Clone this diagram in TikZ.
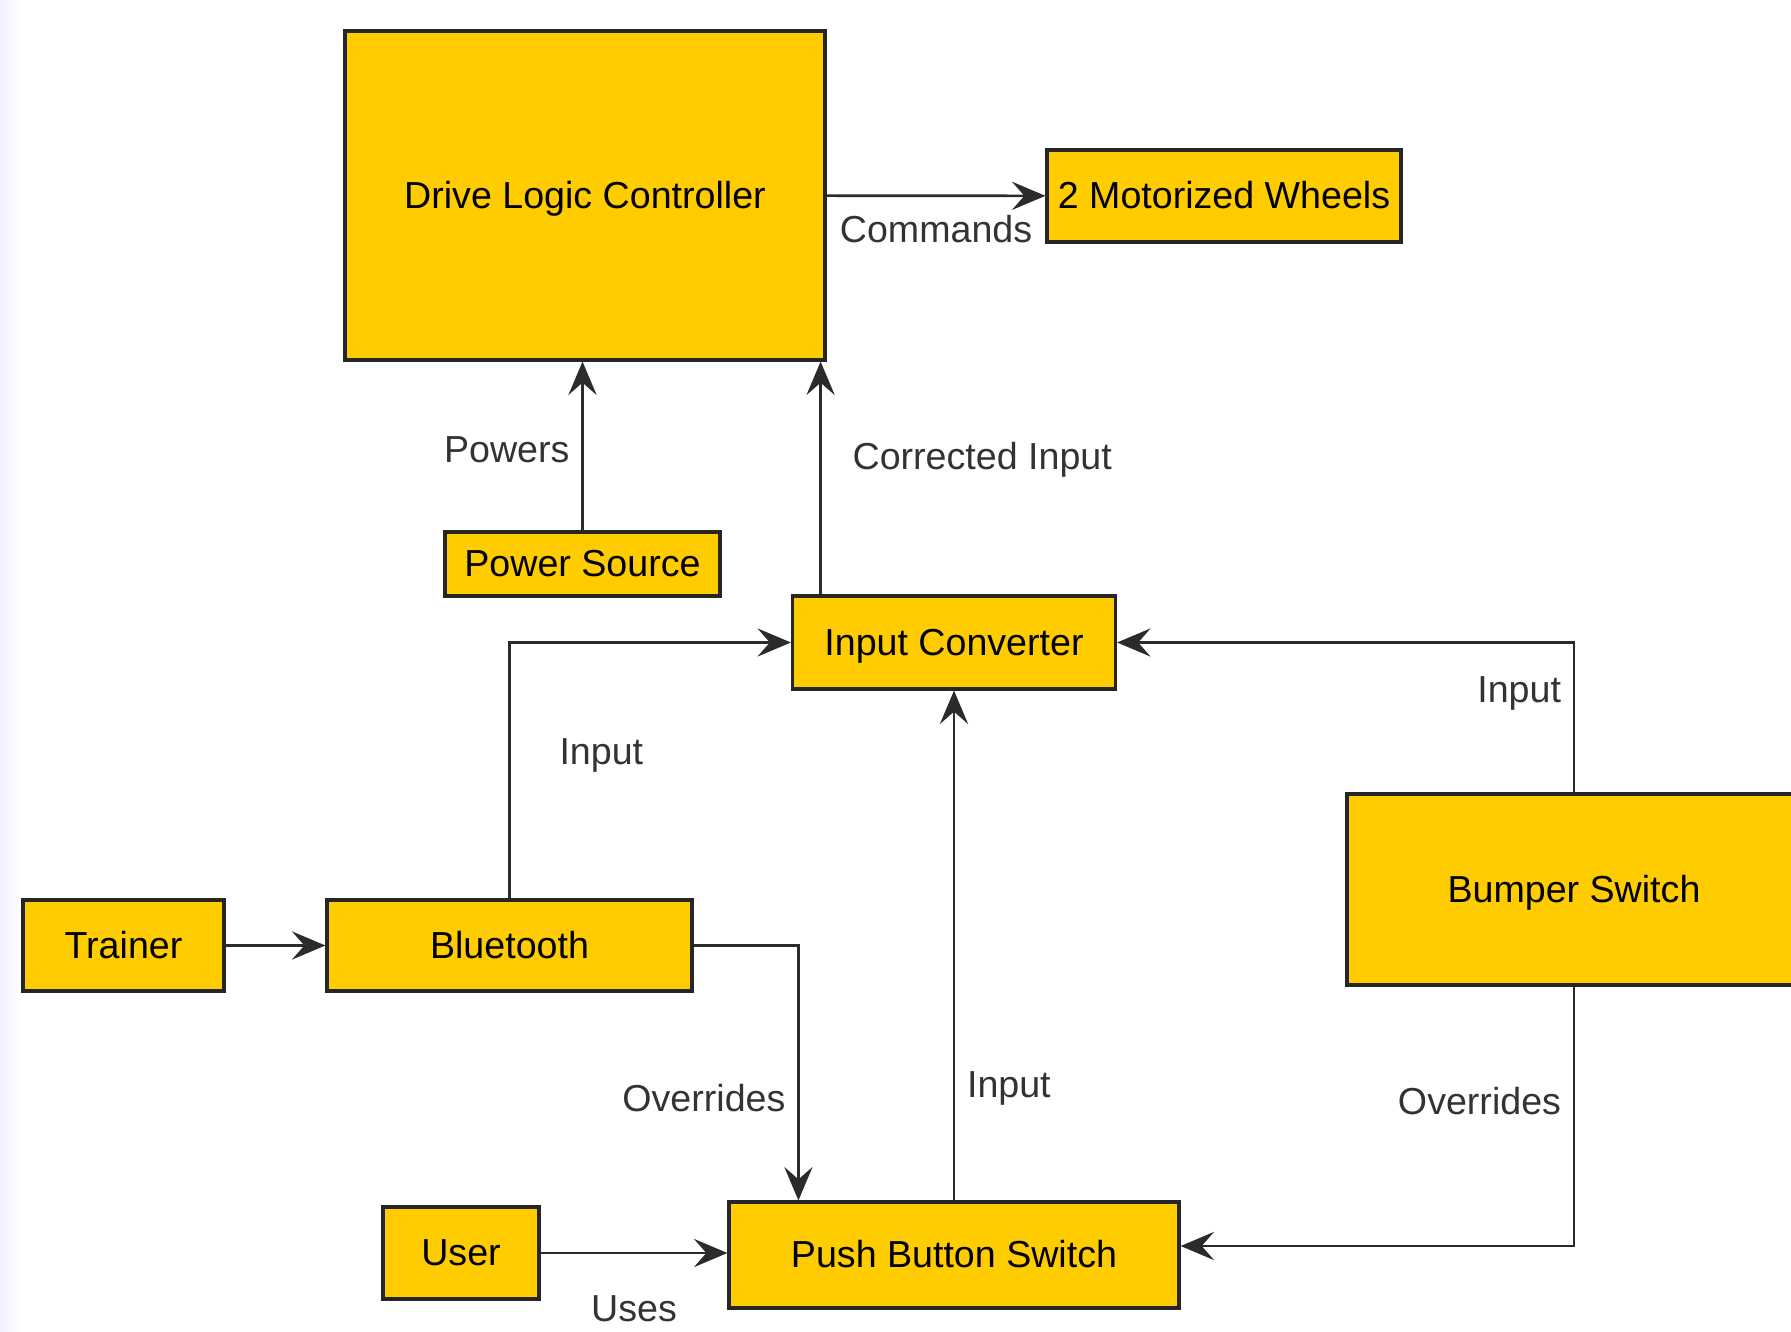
\documentclass[tikz,border=0pt]{standalone}
\usepackage{fontspec}
\setmainfont{Liberation Sans}
\usetikzlibrary{positioning, arrows.meta}
\definecolor{boxfill}{HTML}{FFCC00}
\definecolor{edgegray}{HTML}{2B2B2B}

\begin{document}
\begin{tikzpicture}[
		->,
		>={Stealth[length=9.5pt, width=8pt, inset=3.5pt]},
		line width=0.75pt,
		draw=edgegray,
		every node/.style={font=\fontsize{10.7pt}{13pt}\selectfont},
		block/.style={draw=black!85, line width=0.9pt, fill=boxfill, rectangle, inner sep=0pt,
			text height=0.72em, text depth=0pt},
		lbl/.style={text=black!80}]

	\useasboundingbox (0,0) rectangle (17.91,-13.32);
	\clip (0,0) rectangle (17.91,-13.32);
	\shade[-, left color=blue!6, right color=white] (0,0) rectangle (0.2,-13.32);

	\node[block, minimum width=4.80cm, minimum height=3.29cm] (dlc) at (5.85,-1.955) {Drive Logic Controller};
	\node[block, minimum width=3.54cm, minimum height=0.92cm] (wheels) at (12.24,-1.96) {2 Motorized Wheels};
	\node[block, minimum width=2.75cm, minimum height=0.64cm] (power) at (5.825,-5.64) {Power Source};
	\node[block, minimum width=3.23cm, minimum height=0.93cm] (converter) at (9.54,-6.425) {Input Converter};
	\node[block, minimum width=2.01cm, minimum height=0.91cm] (trainer) at (1.235,-9.455) {Trainer};
	\node[block, minimum width=3.65cm, minimum height=0.91cm] (bluetooth) at (5.095,-9.455) {Bluetooth};
	\node[block, minimum width=4.54cm, minimum height=1.91cm] (bumper) at (15.74,-8.895) {Bumper Switch};
	\node[block, minimum width=1.56cm, minimum height=0.92cm] (user) at (4.61,-12.53) {User};
	\node[block, minimum width=4.50cm, minimum height=1.06cm] (pushbutton) at (9.54,-12.55) {Push Button Switch};

	\coordinate (cin) at ([xshift=-0.06cm]dlc.south east);

	\draw (dlc) -- node[lbl, below, yshift=-0.06cm]{Commands} (wheels);
	\draw (power) -- node[lbl, left, pos=0.48]{Powers} (power.north |- dlc.south);
	\draw (converter.north -| cin) -- node[lbl, right, pos=0.58, xshift=0.19cm]{Corrected Input} (cin);

	\draw (bluetooth.north) |- node[lbl, right, pos=0.28, xshift=0.37cm]{Input} (converter.west);
	\draw (trainer) -- (bluetooth);
	\draw (bluetooth.east) -| node[lbl, left, pos=0.8]{Overrides} ([xshift=0.71cm]pushbutton.north west);

	\draw (pushbutton.north) -- node[lbl, right, pos=0.22]{Input} (pushbutton.north |- converter.south);
	\draw (bumper.north) |- node[lbl, left, pos=0.33]{Input} (converter.east);
	\draw (bumper.south) |- node[lbl, left, pos=0.22]{Overrides} ([yshift=0.09cm]pushbutton.east);

	\draw (user) -- node[lbl, below, yshift=-0.3cm]{Uses} (user -| pushbutton.west);

\end{tikzpicture}
\end{document}
